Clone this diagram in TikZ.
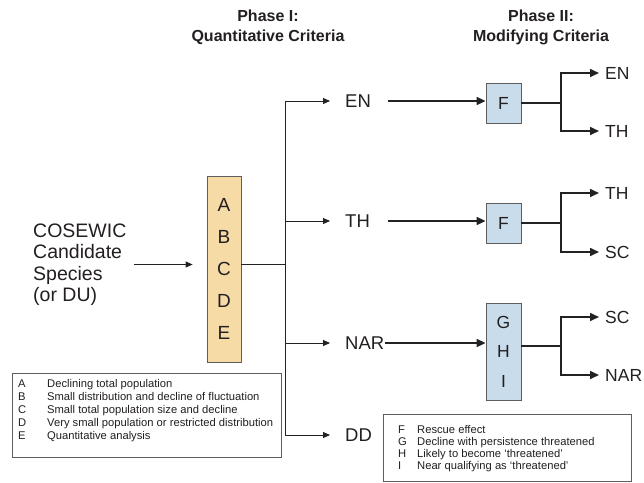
\documentclass[tikz,border=0pt]{standalone}
\usepackage{fontspec}
\setmainfont{Liberation Sans}
\usetikzlibrary{arrows.meta}
\definecolor{txt}{HTML}{231F20}
\definecolor{lnc}{HTML}{222222}
\definecolor{boxline}{HTML}{5E5E5E}
\definecolor{tanfill}{HTML}{F6DBA7}
\definecolor{bluefill}{HTML}{C8DCEB}
\begin{document}
\begin{tikzpicture}[x=1pt,y=-1pt,
  every node/.style={text=txt, inner sep=0pt},
  lab/.style={font=\fontsize{18.5}{20}\selectfont, anchor=west},
  rlab/.style={font=\fontsize{17.5}{20}\selectfont, anchor=west},
  lineA/.style={draw=lnc, line width=0.9pt},
  arrA/.style={lineA, -{Triangle[length=7pt,width=6pt]}},
  lineB/.style={draw=lnc, line width=1.9pt},
  arrB/.style={draw=lnc, line width=1.6pt, -{Triangle[length=9pt,width=8pt]}},
  brB/.style={draw=lnc, line width=1.6pt, {Triangle[length=9pt,width=8pt]}-{Triangle[length=9pt,width=8pt]}},
  critbox/.style={draw=boxline, fill=tanfill, line width=0.8pt, minimum width=34pt, align=center, font=\fontsize{19}{32}\selectfont},
  modbox/.style={draw=boxline, fill=bluefill, line width=0.8pt, minimum width=35pt, align=center},
  legbox/.style={draw=boxline, line width=0.8pt, fill=white},
  legtext/.style={font=\fontsize{11.2}{13}\selectfont, align=left, anchor=west},
  title/.style={font=\bfseries\fontsize{16}{20}\selectfont, align=center},
]
\useasboundingbox (0,0) rectangle (644,482);

% titles
\node[title] (ph1) at (268,27) {Phase I:\\Quantitative Criteria};
\node[title] (ph2) at (541,27) {Phase II:\\Modifying Criteria};

% candidate
\node[font=\fontsize{19.5}{21.5}\selectfont, align=left, anchor=west] (cand) at (33,264.5) {COSEWIC\\Candidate\\Species\\(or DU)};

% criteria box
\node[critbox, minimum height=186pt] (crit) at (224,269) {A\\B\\C\\D\\E};
\draw[arrA] ([xshift=7pt]cand.east) -- ([xshift=-14pt]cand.east -| crit.west);

% phase I outcomes
\node[lab] (en) at (345,101) {EN};
\node[lab] (th) at (345,221) {TH};
\node[lab] (nar) at (345,343) {NAR};
\node[lab] (dd) at (345,435) {DD};

\coordinate (jc) at (285,264);
\coordinate (jt) at (285,101);
\coordinate (jb) at (285,435);
\draw[lineA] (crit.east |- jc) -- (jc);
\draw[lineA] (jt) -- (jb);
\draw[arrA] (jt) -- ([xshift=-15pt]en.west);
\draw[arrA] (jt |- th.west) -- ([xshift=-15pt]th.west);
\draw[arrA] (jt |- nar.west) -- ([xshift=-15pt]nar.west);
\draw[arrA] (jb) -- ([xshift=-15pt]dd.west);

% phase II boxes
\node[modbox, minimum height=40pt, font=\fontsize{17.5}{20}\selectfont] (f1) at (503.5,103) {F};
\node[modbox, minimum height=40pt, font=\fontsize{17.5}{20}\selectfont] (f2) at (503.5,223) {F};
\node[modbox, minimum height=97pt, font=\fontsize{17.5}{29.5}\selectfont] (ghi) at (503.5,351.5) {G\\H\\I};

\draw[arrB] ([xshift=17pt]en.east) -- (f1.west |- en.east);
\draw[arrB] ([xshift=18pt]th.east) -- (f2.west |- th.east);
\draw[arrB] ([xshift=0.5pt]nar.east) -- (ghi.west |- nar.east);

% phase II outcomes
\node[rlab] (en2) at (605,73) {EN};
\node[rlab] (th2) at (605,131) {TH};
\node[rlab] (th3) at (605,193) {TH};
\node[rlab] (sc3) at (605,252) {SC};
\node[rlab] (sc4) at (605,317) {SC};
\node[rlab] (nar4) at (605,375) {NAR};

\coordinate (b1) at (561,103);
\coordinate (b2) at (561,223);
\coordinate (b3) at (561,346);
\draw[lineB] (f1.east) -- (b1);
\draw[lineB] (f2.east) -- (b2);
\draw[lineB] (ghi.east |- b3) -- (b3);
\draw[brB] ([xshift=-6pt]en2.west) -| (b1) |- ([xshift=-6pt]th2.west);
\draw[brB] ([xshift=-6pt]th3.west) -| (b2) |- ([xshift=-6pt]sc3.west);
\draw[brB] ([xshift=-6pt]sc4.west) -| (b3) |- ([xshift=-6pt]nar4.west);

% legends
\node[legbox, anchor=north west, minimum width=269pt, minimum height=84pt] (leg1) at (12,373) {};
\node[legtext] (leg1t) at (18,411) {\makebox[29pt][l]{A}Declining total population\\
\makebox[29pt][l]{B}Small distribution and decline of fluctuation\\
\makebox[29pt][l]{C}Small total population size and decline\\
\makebox[29pt][l]{D}Very small population or restricted distribution\\
\makebox[29pt][l]{E}Quantitative analysis};

\node[legbox, anchor=north west, minimum width=248pt, minimum height=67pt] (leg2) at (383,414) {};
\node[legtext, font=\fontsize{11.2}{12}\selectfont] (leg2t) at (398,449) {\makebox[19pt][l]{F}Rescue effect\\
\makebox[19pt][l]{G}Decline with persistence threatened\\
\makebox[19pt][l]{H}Likely to become `threatened'\\
\makebox[19pt][l]{I}Near qualifying as `threatened'};
\end{tikzpicture}
\end{document}
